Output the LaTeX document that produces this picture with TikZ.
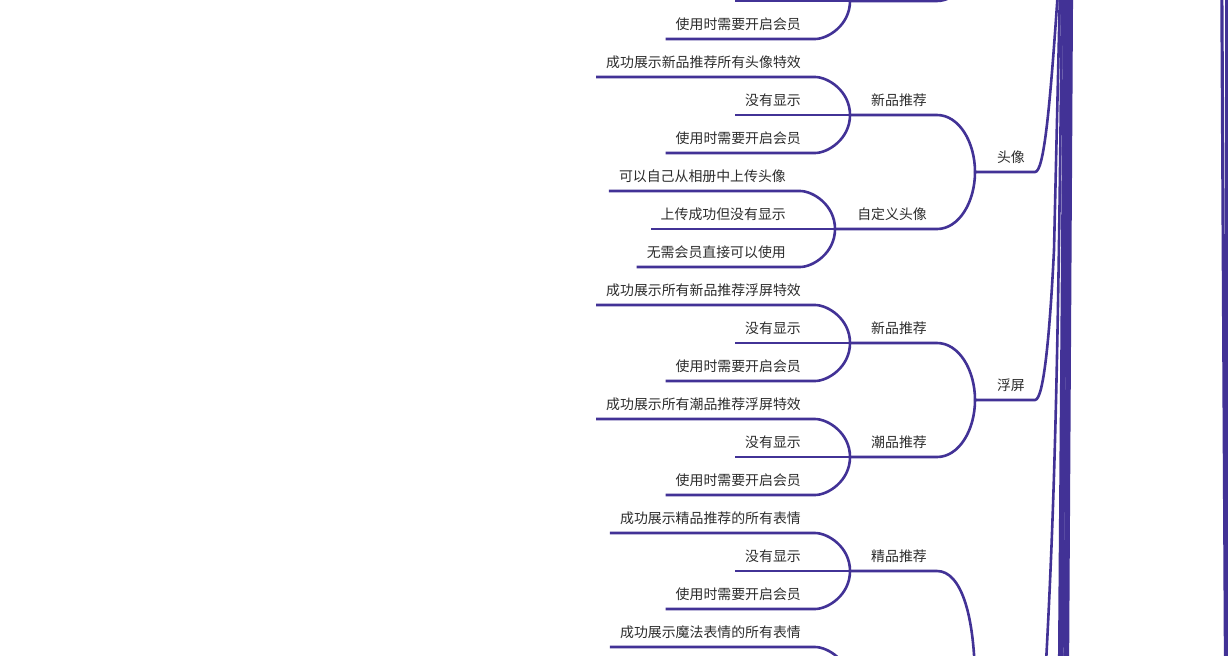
\documentclass[tikz,border=0pt]{standalone}
\usepackage{fontspec}
\newfontfamily\cjk{Noto Sans CJK SC}
\definecolor{br}{RGB}{66,50,150}
\definecolor{tx}{RGB}{45,45,45}
\tikzset{
  lbl/.style={font=\cjk\fontsize{13.9}{16}\selectfont, text=tx, inner xsep=10pt, inner ysep=6.6pt, text height=10pt, text depth=3pt, anchor=south east},
  conn/.style={draw=br, line width=2.6pt},
  band/.style={draw=br, line width=3.2pt},
}
% leaf group: prefix, jx, jy, top text, mid text, bottom text
\newcommand\leafgrp[6]{%
  \coordinate (#1j) at (#2,#3);
  \node[lbl] (#1a) at (#2-39,#3-38) {#4};
  \node[lbl] (#1b) at (#2-39,#3) {#5};
  \node[lbl] (#1c) at (#2-39,#3+38) {#6};
  \coordinate (#1ae) at (#2-35,#3-38);
  \coordinate (#1ce) at (#2-35,#3+38);
  \draw[conn] (#1j) .. controls +(0,-24) and +(13,0) .. (#1ae) -- (#1a.south west);
  \draw[conn] (#1j) -- (#1b.south west);
  \draw[conn] (#1j) .. controls +(0,24) and +(13,0) .. (#1ce) -- (#1c.south west);
}
\begin{document}
\begin{tikzpicture}[x=1pt,y=-1pt]
\useasboundingbox (0,0) rectangle (1229,656);
\fill[white] (0,0) rectangle (1229,656);
\clip (0,0) rectangle (1229,656);

% ---------- partial group at the top ----------
\coordinate (g0j) at (850,1);
\coordinate (g0ae) at (815,-37);
\coordinate (g0b) at (735,1);
\node[lbl] (g0c) at (811,39) {使用时需要开启会员};
\coordinate (g0ce) at (815,39);
\draw[conn] (g0j) .. controls +(0,-24) and +(13,0) .. (g0ae);
\draw[conn] (g0j) -- (g0b);
\draw[conn] (g0j) .. controls +(0,24) and +(13,0) .. (g0ce) -- (g0c.south west);
\coordinate (g0e) at (937,1);
\coordinate (top1) at (975,-56);
\draw[conn] (g0j) -- (g0e) .. controls +(22,0) and +(0,30) .. (top1);

% ---------- 头像 ----------
\coordinate (txj) at (975,172);
\leafgrp{xa}{850}{115}{成功展示新品推荐所有头像特效}{没有显示}{使用时需要开启会员}
\leafgrp{xb}{835}{229}{可以自己从相册中上传头像}{上传成功但没有显示}{无需会员直接可以使用}
\node[lbl] (xan) at (937,115) {新品推荐};
\node[lbl] (xbn) at (937,229) {自定义头像};
\draw[conn] (xaj) -- (xan.south east) .. controls +(22,0) and +(0,-30) .. (txj);
\draw[conn] (xbj) -- (xbn.south east) .. controls +(22,0) and +(0,30) .. (txj);
\node[lbl] (tx) at (1035,172) {头像};
\coordinate (r1) at (1058,-10);
\draw[conn] (txj) -- (tx.south east) .. controls +(9,0) and +(-8,118) .. (r1);

% ---------- 浮屏 ----------
\coordinate (fpj) at (975,400);
\leafgrp{fa}{850}{343}{成功展示所有新品推荐浮屏特效}{没有显示}{使用时需要开启会员}
\leafgrp{fb}{850}{457}{成功展示所有潮品推荐浮屏特效}{没有显示}{使用时需要开启会员}
\node[lbl] (fan) at (937,343) {新品推荐};
\node[lbl] (fbn) at (937,457) {潮品推荐};
\draw[conn] (faj) -- (fan.south east) .. controls +(22,0) and +(0,-30) .. (fpj);
\draw[conn] (fbj) -- (fbn.south east) .. controls +(22,0) and +(0,30) .. (fpj);
\node[lbl] (fp) at (1035,400) {浮屏};
\coordinate (fpk) at (1054,250);
\coordinate (r2) at (1060,-10);
\draw[conn] (fpj) -- (fp.south east) .. controls +(9,0) and +(-4,80) .. (fpk) -- (r2);

% ---------- 表情 (partly visible) ----------
\coordinate (bqj) at (975,685);
\leafgrp{ea}{850}{571}{成功展示精品推荐的所有表情}{没有显示}{使用时需要开启会员}
\node[lbl] (ean) at (937,571) {精品推荐};
\draw[conn] (eaj) -- (ean.south east) .. controls +(24,0) and +(0,-70) .. (bqj);
\coordinate (ebj) at (850,685);
\node[lbl] (eba) at (811,647) {成功展示魔法表情的所有表情};
\coordinate (ebae) at (815,647);
\draw[conn] (ebj) .. controls +(0,-24) and +(13,0) .. (ebae) -- (eba.south west);

% ---------- connectors to the root (off the picture) ----------
\coordinate (e1) at (1044,700);
\coordinate (e2) at (1062,-10);
\draw[conn] (e1) .. controls (1054,520) and (1058,400) .. (e2);
\foreach \i/\a/\b in {1/1064.5/1059.5, 2/1067/1062, 3/1069.5/1065, 4/1071.5/1067.5}{
  \coordinate (ba\i) at (\a,-10);
  \coordinate (bb\i) at (\b,666);
  \draw[band] (bb\i) -- (ba\i);
}
\coordinate (ra1) at (1221.8,-10);
\coordinate (rb1) at (1225.5,666);
\coordinate (ra2) at (1226.8,-10);
\coordinate (rb2) at (1226.8,666);
\draw[band] (rb1) -- (ra1);
\draw[band] (rb2) -- (ra2);
\end{tikzpicture}
\end{document}
